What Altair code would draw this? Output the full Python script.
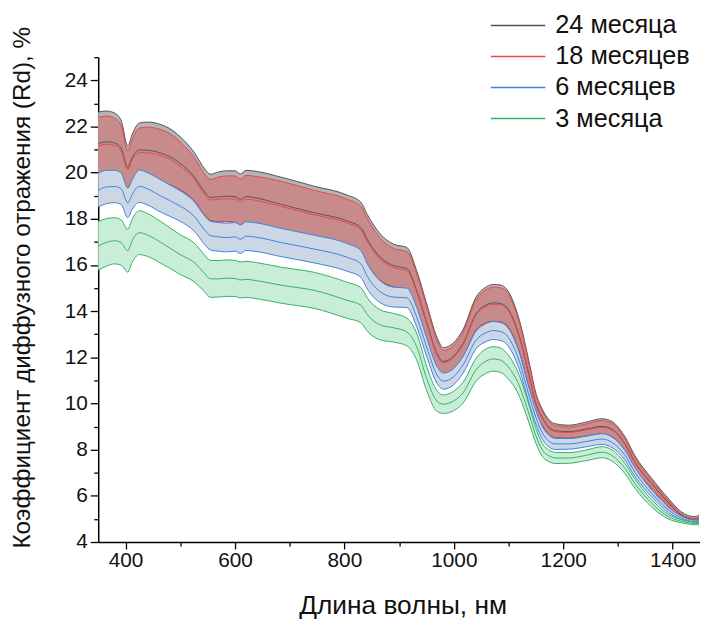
import altair as alt
import pandas as pd

# wavelength grid, nm
wl = [350, 365, 380, 392, 404, 412, 425, 440, 465, 480, 500, 525, 545, 555, 570, 585, 600, 610, 620, 640,
      685, 745, 805, 830, 842, 866, 890, 914, 932, 951, 969, 981, 999, 1017, 1041, 1060, 1072, 1085, 1096,
      1120, 1138, 1150, 1162, 1175, 1186, 1210, 1241, 1271, 1289, 1313, 1331, 1362, 1392, 1416, 1428, 1440, 1448]

# 24 months: mean and half-width of band
m24 = [21.27, 21.34, 21.28, 21.05, 20.24, 20.65, 20.98, 20.97, 20.84, 20.70, 20.40, 19.84, 19.15, 18.93, 18.95,
       18.98, 18.96, 18.84, 18.97, 18.90, 18.62, 18.26, 17.91, 17.62, 17.10, 16.33, 15.97, 15.85, 14.90, 13.47,
       12.18, 11.82, 12.04, 12.61, 13.90, 14.28, 14.36, 14.33, 14.19, 12.90, 11.18, 10.00, 9.39, 8.95, 8.82,
       8.78, 8.89, 9.01, 8.89, 8.25, 7.46, 6.53, 5.72, 5.17, 5.03, 4.99, 5.04]
h24 = [1.35, 1.33, 1.30, 1.20, 0.92, 1.00, 1.17, 1.22, 1.24, 1.22, 1.15, 1.05, 1.00, 1.00, 1.08, 1.10, 1.12, 1.10,
       1.13, 1.15, 1.18, 1.15, 1.12, 1.10, 1.08, 1.00, 0.93, 0.91, 0.86, 0.80, 0.70, 0.60, 0.58, 0.60, 0.72, 0.78,
       0.80, 0.80, 0.78, 0.70, 0.58, 0.45, 0.35, 0.32, 0.30, 0.28, 0.30, 0.33, 0.33, 0.30, 0.28, 0.22, 0.17, 0.14,
       0.12, 0.11, 0.11]

# 18 months
m18 = [21.16, 21.23, 21.17, 20.94, 20.13, 20.54, 20.87, 20.86, 20.73, 20.59, 20.29, 19.73, 19.04, 18.82, 18.84,
       18.87, 18.85, 18.73, 18.86, 18.79, 18.53, 18.17, 17.82, 17.53, 17.01, 16.24, 15.88, 15.76, 14.84, 13.41,
       12.12, 11.76, 11.98, 12.55, 13.84, 14.22, 14.30, 14.27, 14.13, 12.84, 11.12, 9.96, 9.35, 8.91, 8.78,
       8.74, 8.85, 8.97, 8.85, 8.21, 7.42, 6.49, 5.68, 5.13, 4.99, 4.95, 5.00]
h18 = [1.24, 1.22, 1.19, 1.09, 0.81, 0.89, 1.06, 1.11, 1.13, 1.11, 1.04, 0.94, 0.89, 0.89, 0.97, 0.99, 1.01, 0.99,
       1.02, 1.04, 1.09, 1.06, 1.03, 1.01, 0.99, 0.91, 0.84, 0.82, 0.80, 0.74, 0.64, 0.54, 0.52, 0.54, 0.66, 0.72,
       0.74, 0.74, 0.72, 0.64, 0.52, 0.41, 0.31, 0.28, 0.26, 0.24, 0.26, 0.29, 0.29, 0.26, 0.24, 0.18, 0.13, 0.10,
       0.08, 0.07, 0.07]

# 6 months
m6 = [19.24, 19.38, 19.40, 19.30, 18.69, 19.05, 19.41, 19.30, 18.98, 18.80, 18.55, 18.12, 17.50, 17.27, 17.22,
      17.19, 17.22, 17.12, 17.25, 17.20, 16.97, 16.69, 16.33, 16.05, 15.50, 14.83, 14.61, 14.58, 13.76, 12.40,
      11.25, 10.97, 11.15, 11.68, 12.76, 13.08, 13.16, 13.12, 12.97, 11.82, 10.30, 9.40, 8.72, 8.35, 8.25,
      8.25, 8.35, 8.46, 8.32, 7.75, 7.03, 6.10, 5.39, 5.05, 4.93, 4.88, 4.88]
h6 = [0.72, 0.72, 0.70, 0.68, 0.64, 0.64, 0.70, 0.70, 0.70, 0.68, 0.66, 0.64, 0.62, 0.62, 0.62, 0.62, 0.62, 0.62,
      0.62, 0.62, 0.61, 0.60, 0.60, 0.58, 0.55, 0.47, 0.43, 0.42, 0.42, 0.40, 0.37, 0.35, 0.35, 0.36, 0.38, 0.39,
      0.39, 0.39, 0.39, 0.36, 0.33, 0.30, 0.28, 0.25, 0.24, 0.23, 0.23, 0.23, 0.23, 0.21, 0.19, 0.15, 0.11, 0.08,
      0.07, 0.06, 0.06]

# 3 months
m3 = [16.83, 16.98, 17.05, 16.97, 16.62, 17.05, 17.40, 17.30, 16.97, 16.75, 16.45, 16.12, 15.62, 15.40, 15.40,
      15.43, 15.42, 15.35, 15.38, 15.32, 15.12, 14.90, 14.47, 14.26, 13.85, 13.40, 13.28, 13.10, 12.47, 11.04,
      10.11, 9.97, 10.10, 10.47, 11.47, 11.85, 11.93, 11.88, 11.68, 10.75, 9.50, 8.60, 7.98, 7.72, 7.64,
      7.64, 7.75, 7.89, 7.75, 7.18, 6.53, 5.67, 5.10, 4.90, 4.84, 4.80, 4.80]
h3 = [1.05, 1.03, 1.00, 0.98, 0.93, 0.94, 0.95, 0.93, 0.90, 0.88, 0.86, 0.84, 0.80, 0.80, 0.79, 0.79, 0.78, 0.78,
      0.78, 0.78, 0.78, 0.78, 0.78, 0.76, 0.72, 0.65, 0.62, 0.60, 0.58, 0.52, 0.45, 0.40, 0.42, 0.45, 0.50, 0.53,
      0.53, 0.53, 0.52, 0.45, 0.38, 0.32, 0.28, 0.25, 0.24, 0.23, 0.23, 0.24, 0.24, 0.22, 0.20, 0.16, 0.10, 0.07,
      0.06, 0.05, 0.05]

series_names = ["24 месяца", "18 месяцев", "6 месяцев", "3 месяца"]
fill_colors = ["#b4b4b4", "#c78b8b", "#ccd7e5", "#c9eed7"]
line_colors = ["#555555", "#e8474c", "#3f82dc", "#3aac68"]

x_major_vals = [400, 600, 800, 1000, 1200, 1400]
x_minor_vals = [500, 700, 900, 1100, 1300]
y_major_vals = [4, 6, 8, 10, 12, 14, 16, 18, 20, 22, 24]
y_minor_vals = [5, 7, 9, 11, 13, 15, 17, 19, 21, 23, 25]

means = [m24, m18, m6, m3]
halfs = [h24, h18, h6, h3]

x_scale = alt.Scale(domain=[350, 1450], nice=False, zero=False)
y_scale = alt.Scale(domain=[4, 25], nice=False, zero=False)
stroke_scale = alt.Scale(domain=series_names, range=line_colors)

FONT = "Liberation Sans"

axis_common = dict(domainColor="black", tickColor="black", labelColor="#111111",
                   titleColor="#111111", labelFont=FONT, titleFont=FONT, grid=False)

x_major = alt.Axis(values=x_major_vals, format="d", orient="bottom", tickSize=7, tickWidth=1.3,
                   domainWidth=1.5, labelFontSize=21, labelPadding=1, title="Длина волны, нм",
                   titleFontSize=26.5, titleFontWeight="normal", titlePadding=22, titleX=307, **axis_common)
y_major = alt.Axis(values=y_major_vals, format="d", orient="left", tickSize=8, tickWidth=1.3, domainWidth=1.5,
                   labelFontSize=21, labelPadding=3, title="Коэффициент диффузного отражения (Rd), %",
                   titleFontSize=24.5, titleFontWeight="normal", titleX=-64, titleY=232, **axis_common)
x_minor = alt.Axis(values=x_minor_vals, orient="bottom", tickSize=4, tickWidth=1.3, labels=False, domain=False,
                   title=None, grid=False, tickColor="black")
y_minor = alt.Axis(values=y_minor_vals, orient="left", tickSize=4.5, tickWidth=1.3, labels=False,
                   domain=False, title=None, grid=False, tickColor="black")


def band_layer(i):
    m, h = means[i], halfs[i]
    df = pd.DataFrame({"wl": wl, "lo": [a - b for a, b in zip(m, h)], "hi": [a + b for a, b in zip(m, h)]})
    if i == 0:
        xa, ya = x_major, y_major
    elif i == 1:
        xa, ya = x_minor, y_minor
    else:
        xa, ya = None, None
    return alt.Chart(df).mark_area(interpolate="monotone", color=fill_colors[i], opacity=1).encode(
        x=alt.X("wl:Q", scale=x_scale, axis=xa),
        y=alt.Y("lo:Q", scale=y_scale, axis=ya),
        y2="hi:Q",
    )


def line_layer(i):
    name, m, h = series_names[i], means[i], halfs[i]
    rows = []
    for w, a, b in zip(wl, m, h):
        rows.append({"series": name, "kind": "lower", "wl": w, "v": a - b})
        rows.append({"series": name, "kind": "mean", "wl": w, "v": a})
        rows.append({"series": name, "kind": "upper", "wl": w, "v": a + b})
    df = pd.DataFrame(rows)
    legend = alt.Legend(orient="none", legendX=395, legendY=-46, symbolType="stroke", symbolSize=3025,
                        symbolStrokeWidth=1.5, labelFontSize=25.5, labelFont=FONT, labelColor="#111111",
                        title=None, clipHeight=28, rowPadding=3.3, padding=0, labelOffset=9) if i == 0 else None
    return alt.Chart(df).mark_line(interpolate="monotone", strokeWidth=1).encode(
        x=alt.X("wl:Q", scale=x_scale, axis=None),
        y=alt.Y("v:Q", scale=y_scale, axis=None),
        stroke=alt.Stroke("series:N", scale=stroke_scale, legend=legend),
        detail="kind:N",
    )


layers = [band_layer(0), band_layer(1), line_layer(0), line_layer(1),
          band_layer(2), line_layer(2), band_layer(3), line_layer(3)]

chart = alt.layer(*layers).resolve_axis(x="independent", y="independent").properties(
    width=607, height=489,
    padding={"left": 91, "top": 47, "right": 0, "bottom": 75},
    autosize=alt.AutoSizeParams(type="none"),
).configure(font=FONT).configure_view(stroke=None)

chart.save("out.html", embed_options={"renderer": "svg", "actions": False})
